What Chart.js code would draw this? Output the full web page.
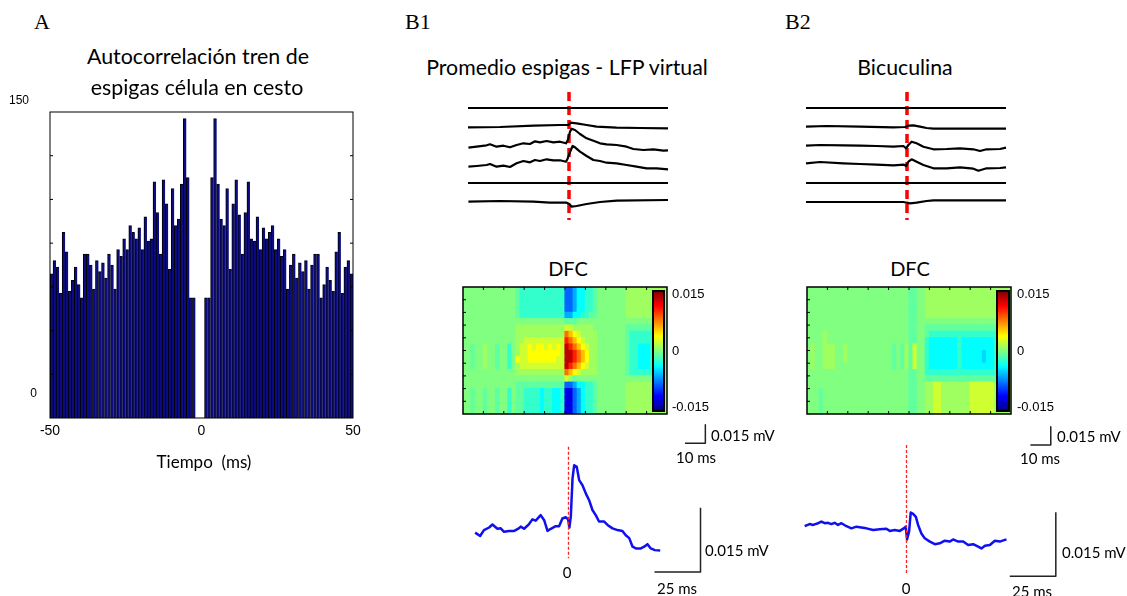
<!DOCTYPE html>
<html>
<head>
<meta charset="utf-8">
<script src="https://cdn.jsdelivr.net/npm/chart.js@4.4.1/dist/chart.umd.min.js"></script>
<style>
  html, body { margin: 0; padding: 0; background: #fff; }
  body { position: relative; width: 1127px; height: 596px; overflow: hidden; }
  canvas { position: absolute; }
  .lbl { position: absolute; white-space: pre; color: #000; font-family: Lato, 'Open Sans', sans-serif; line-height: 1; }
  .serif { font-family: 'Liberation Serif', 'DejaVu Serif', serif; }
  .arial { font-family: 'Liberation Sans', Arial, sans-serif; }
</style>
</head>
<body>
<script>
/* ---------- A: autocorrelation histogram (1 ms bins, -50..50 ms) ---------- */
const histStart = -50;
const histBin = 1;
const histCounts = [
  66, 72, 69, 57, 85, 76, 58, 63, 69, 61, 55, 75, 75, 70, 59, 72, 67, 71, 64, 75,
  70, 59, 77, 74, 82, 77, 88, 85, 82, 87, 77, 92, 81, 82, 108, 94, 75, 109, 98, 68,
  105, 88, 91, 107, 137, 110, 55, 55,
  0, 0, 0,
  55, 55, 110, 137, 107, 91, 88, 105, 68, 98, 109, 93, 75, 94, 108, 82, 81, 92, 77,
  87, 82, 85, 88, 77, 82, 74, 77, 59, 70, 75, 64, 71, 67, 72, 59, 70, 75, 75, 55,
  61, 69, 63, 58, 76, 85, 57, 69, 72, 66
];
const histXTicks = [-50, 0, 50];
const histYTicks = [20, 40, 60, 80, 100, 120];

/* ---------- B: spike-triggered traces, [ms, deflection] ---------- */
const traceOffsets = [112, 93, 73, 54, 37, 19];
const flatTrace = [[-50, 0], [50, 0]];
const b1Traces = [
  flatTrace,
  [[-50,-0.3],[-34,0],[-17,1.3],[-4,2],[0.2,2],[1.3,4.3],[4.3,3.7],[9.3,2],[14.3,0.3],[24.3,-0.7],[36,-1],[50,-1.3]],
  [[-49.8,-0.7],[-45.7,0.3],[-40.7,1.7],[-39,2.7],[-35.7,0.3],[-32.3,1.3],[-29,-0.3],[-25.7,2],[-22.3,3.7],[-19,3],[-16.5,5.7],[-14,4.7],[-10.7,6],[-7.3,4.7],[-4,5.3],[-1,3.7],[-0.2,6.3],[1,15.3],[1.8,18.3],[3.5,17],[6,13],[9.3,8.7],[12.7,6.3],[16,3.7],[19.3,2.7],[24.3,2],[29.3,0.3],[32.7,-2],[37.7,-3],[42.7,-2.3],[47.7,-3.7],[50,-3.3]],
  [[-49.8,-0.7],[-45.7,0],[-40.7,1],[-39,2],[-35.7,-0.7],[-32.3,0.3],[-29,-1],[-25.7,2.7],[-22.3,5],[-19,3.7],[-16.5,6],[-14,5],[-10.7,6.7],[-7.3,5.7],[-4,5.7],[-1,4.3],[-0.2,7.3],[1.3,15.3],[2.3,20],[3.5,18.7],[6,14.3],[9.3,10],[12.7,6],[16,5],[19.3,3.3],[24.3,2.7],[29.3,1],[34.3,-0.7],[39.3,-2.3],[44.3,-2.3],[50,-3.3]],
  flatTrace,
  [[-49.8,-0.7],[-34,0],[-17.3,-0.7],[-9,-1.7],[-0.7,-1.7],[0.7,-3],[1.8,-5.7],[4.3,-5],[9.3,-3],[16,-1],[24.3,0.3],[50,1]]
];
const b2Traces = [
  flatTrace,
  [[-50,0.3],[-39.7,1],[-23,0.3],[-6.3,-0.3],[-0.5,0],[1.2,1.3],[3.7,1.7],[7,0.3],[10.3,-1],[13.7,-1.7],[27,-1.7],[50,-1.7]],
  [[-50,1.3],[-43,2],[-31.3,1.7],[-23,1.3],[-14.7,1],[-6.3,0.3],[-1.3,1],[0,-1.3],[1.2,2],[2.8,5.3],[5.3,3.7],[8.7,0.3],[13.7,-2.3],[20.3,-2],[27,-1.3],[33.7,-2.3],[37,-4],[40.3,-2.3],[47,-2],[50,-0.7]],
  [[-50,2.7],[-43,4],[-31.3,2.7],[-23,2],[-14.7,1.3],[-6.3,0.7],[-1,1.3],[0,0],[1.2,4.3],[2.8,6.7],[5.3,4.3],[8.7,1],[13.7,-2.3],[20.3,-2.3],[27,-1.3],[33.7,-2.7],[36.2,-4.7],[40.3,-2.3],[47,-2],[50,-1.3]],
  flatTrace,
  [[-50,-1],[-23,-1],[-1.3,-1],[0.3,-1.7],[2,-2.3],[5.3,-1.7],[10.3,0],[13.7,0.7],[50,0.7]]
];
const spikeMarker = [[0.5, 128], [0.5, 0]];

/* ---------- DFC maps: 20 rows x 50 columns of 2 ms, value codes in mV ---------- */
const dfcCodes = {
  '.': 0, '+': 0.001, 'y': 0.0025, 'Y': 0.004, 'o': 0.006, 'O': 0.0085, 'r': 0.011, 'R': 0.014,
  '-': -0.001, 't': -0.0024, 'c': -0.004, 'k': -0.0052, 'l': -0.0066, 'b': -0.0088, 'B': -0.0128
};
const dfcB1 = [
  ".............|-ttttttttttt|bblcctt-|.......|++++++++++",
  ".............|-ttttttttttt|bblcctt-|.......|++++++++++",
  ".............|-ttttttttttt|bblcctt-|.......|++++++++++",
  ".............|-ttttttttttt|bblcctt-|.......|++++++++++",
  ".............|-ttttttttttt|llcctt--|.......|++++++++++",
  ".............|............|---.....|.......|..........",
  ".............|++++++++++++|yy+++++.|.......|-------...",
  ".............|++++++++++++|OoYy++++|.......|-tttttt---",
  ".............|++yyyyyyyyyy|rOoYy+++|.......|-tttttt---",
  "..-..+..-..t.|+yyYyYYyYyYy|RrOoYy++|.......|-ttccctt--",
  "..-..+..-..t.|+yyYYYYYYYYy|RRrOoY++|.......|-ttccctt--",
  "..-..+..-..t.|YyyYYYYYYYyy|RRrOoY++|.......|-ttccctt--",
  "..-..+..-..t.|+yyyyyyyyyyy|RrOoYy++|.......|-ttccctt--",
  ".............|++++++++++++|OoYy++++|.......|-tttttt---",
  ".............|............|y+-.....|.......|..........",
  ".............|------------|bblcctt-|.......|++++++++++",
  "..-..-..-..t.|--ttttcttcct|BBblctt-|.......|++++++++++",
  "..-..-..-..t.|--ttttcttcct|BBblctt-|.......|++++++++++",
  "..-..-..-..t.|--ttttcttcct|BBblctt-|.......|++++++++++",
  "..-..-..-..t.|--ttttcttcct|BBblctt-|.......|++++++++++"
];
const dfcB2 = [
  ".............|............|--..++++|+++++++|++++++++++",
  ".............|............|--..++++|+++++++|++++++++++",
  ".............|............|--..++++|+++++++|++++++++++",
  ".............|............|--..++++|+++++++|++++++++++",
  ".............|............|--..++++|+++++++|++++++++++",
  ".............|............|--......|.......|..........",
  ".............|............|--..----|-------|-------...",
  "....+........|............|--..-ttt|ttttttt|ttttttt--.",
  "....+........|............|--..tccc|cccctcc|cccccct--.",
  ".+..+++..+...|........-.-+|-y..tccc|cccctcc|cccccct--.",
  ".+..+++..+...|........-.-+|-y..tccc|cccctcc|ccckcct--.",
  ".+..+++..+...|........-.-+|-y..tccc|cccctcc|ccckcct--.",
  ".+..+++......|........-.-+|-y..tccc|cccctcc|cccccct--.",
  ".............|............|--..tttt|ttttttt|ttttttt--.",
  ".............|............|--..----|-------|-------...",
  ".............|............|--..++yy|+++++++|yyyyyy++++",
  "...-.........|............|--..++yy|+++++++|yyyyyy++++",
  "...-.........|............|--..++yy|+++++++|yyyyyy++++",
  "...-.........|............|--..++yy|+++++++|yyyyyy++++",
  "...-.........|............|--..++yy|+++++++|yyyyyy++++"
];
const dfcStart = -50;
const dfcStep = 2;
const dfcCols = 50;
const dfcXTicks = [-40, -30, -20, -10, 0, 10, 20, 30, 40];
const dfcYTicks = [2, 4, 6, 8, 10, 12, 14, 16, 18];
const cbMax = 0.016;
const cbTicks = [-0.015, 0, 0.015];
// scale bars (drawn top of vertical first so the points are not x-sorted)
const b1DfcBar = [[68.8, 21.7], [68.8, 24.6], [58.8, 24.6]];
const b2DfcBar = [[69.5, 22.0], [69.5, 24.9], [59.5, 24.9]];

/* ---------- virtual LFP, [ms, mV] ---------- */
const b1Lfp = [[-50.7,0.0001],[-48,-0.0007],[-45.9,0.0007],[-43.1,0.0013],[-41.3,0.002],[-38.6,0.001],[-36.8,0.0011],[-35,0.0003],[-32.3,0.0005],[-29.5,0.0005],[-27.7,0.0009],[-25.9,0.0015],[-24.1,0.001],[-21.4,0.0021],[-19.6,0.0032],[-17.8,0.0029],[-15.1,0.0042],[-13.2,0.003],[-11.4,0.0005],[-9.6,0.001],[-6.9,0.0016],[-5.1,0.0016],[-3.3,0.0034],[-1.5,0.0037],[-0.2,0.0032],[0.5,0.0013],[1.25,0.0038],[2.2,0.0128],[3.1,0.0159],[4.5,0.0155],[5.8,0.0124],[7.6,0.0112],[9.4,0.0093],[11.2,0.0077],[13,0.0054],[14.8,0.0042],[16.6,0.0027],[19.4,0.0027],[21.2,0.0019],[23.9,0.0011],[26.6,0.0007],[29.3,0.0005],[31.1,-0.0005],[33,-0.0012],[34.8,-0.0032],[36.6,-0.0036],[39.3,-0.0036],[41.1,-0.0032],[42.9,-0.0026],[44.7,-0.0036],[46.9,-0.004],[49.8,-0.0041]];
const b2Lfp = [[-55.3,0.0016],[-52.6,0.0021],[-50.7,0.0019],[-48,0.0023],[-46.2,0.0027],[-44.4,0.0023],[-42.6,0.0024],[-40.8,0.0021],[-39,0.0024],[-37.2,0.0019],[-35.3,0.0023],[-32.6,0.0016],[-29.9,0.0011],[-27.2,0.0015],[-24.5,0.0013],[-21.8,0.0011],[-18.1,0.0007],[-14.5,0.0009],[-10.9,0.001],[-9.1,0.0005],[-6.4,0.0007],[-3.6,0.0005],[-1.5,0.0011],[-0.4,0.0015],[0.3,-0.0015],[1.4,0.0003],[2.3,0.0048],[3.6,0.0045],[5.1,0.0038],[6.3,0.0019],[8.1,-0.0001],[9.9,-0.0012],[12.7,-0.002],[15.4,-0.0026],[18.1,-0.0024],[20.8,-0.0018],[23.5,-0.002],[25.3,-0.0015],[28.1,-0.002],[30.8,-0.002],[33.5,-0.0028],[36.2,-0.0026],[38.9,-0.0032],[40.7,-0.0036],[42.6,-0.003],[45.3,-0.0028],[48,-0.0018],[50.7,-0.002],[53.4,-0.0016],[54.3,-0.0015]];
const b1LfpMarker = [[0, 0.0202], [0, -0.0059]];
const b2LfpMarker = [[0, 0.0206], [0, -0.0094]];
const b1LfpBar = [[46.7, -0.0091], [71.7, -0.0091], [71.7, 0.0059]];
const b2LfpBar = [[56.1, -0.0101], [81.1, -0.0101], [81.1, 0.0049]];

/* ---------- helpers ---------- */
Chart.defaults.font.family = "'Liberation Sans', Arial, sans-serif";
Chart.defaults.font.size = 13;
Chart.defaults.color = '#000';

function mkCanvas(left, top, w, h) {
  const c = document.createElement('canvas');
  c.width = w; c.height = h;
  c.style.left = left + 'px'; c.style.top = top + 'px';
  c.style.width = w + 'px'; c.style.height = h + 'px';
  document.body.appendChild(c);
  return c;
}

function label(text, x, y, size, cls, align) {
  const d = document.createElement('div');
  d.className = 'lbl ' + (cls || '');
  d.textContent = text;
  d.style.fontSize = size + 'px';
  d.style.left = x + 'px';
  d.style.top = y + 'px';
  const tx = align === 'left' ? '0' : (align === 'right' ? '-100%' : '-50%');
  d.style.transform = 'translate(' + tx + ', -50%)';
  document.body.appendChild(d);
}

function pts(arr, off) {
  return arr.map(p => ({ x: p[0], y: p[1] + (off || 0) }));
}

function jet(f) {
  const t = Math.max(0, Math.min(1, (f + 1) / 2));
  const cl = v => Math.round(255 * Math.max(0, Math.min(1, v)));
  return 'rgb(' + cl(1.5 - Math.abs(4 * t - 3)) + ',' + cl(1.5 - Math.abs(4 * t - 2)) + ',' + cl(1.5 - Math.abs(4 * t - 1)) + ')';
}

// black box + inward MATLAB-style tick marks
function frame(o) {
  return {
    id: 'frame',
    afterDraw(chart) {
      const { ctx, chartArea: a, scales } = chart;
      const L = o.len || 3;
      ctx.save();
      ctx.strokeStyle = '#000';
      ctx.lineWidth = o.lw || 1;
      ctx.strokeRect(a.left, a.top, a.right - a.left, a.bottom - a.top);
      ctx.lineWidth = 1;
      const seg = (x1, y1, x2, y2) => { ctx.beginPath(); ctx.moveTo(x1, y1); ctx.lineTo(x2, y2); ctx.stroke(); };
      (o.yTicks || []).forEach(v => {
        const y = scales.y.getPixelForValue(v);
        if (o.left) seg(a.left, y, a.left + L, y);
        if (o.right) seg(a.right, y, a.right - L, y);
      });
      (o.xTicks || []).forEach(v => {
        const x = scales.x.getPixelForValue(v);
        if (o.bottom) seg(x, a.bottom, x, a.bottom - L);
        if (o.top) seg(x, a.top, x, a.top + L);
      });
      ctx.restore();
    }
  };
}

const baseOpts = (padding) => ({
  responsive: false, animation: false, events: [],
  layout: { padding },
  plugins: { legend: { display: false }, tooltip: { enabled: false } }
});

const lineDs = (data, color, width, dash) => ({
  type: 'line', data, borderColor: color, borderWidth: width, borderDash: dash || [],
  pointRadius: 0, tension: 0, fill: false, clip: false, borderCapStyle: 'butt', borderJoinStyle: 'round'
});

/* ---------- panel A ---------- */
new Chart(mkCanvas(0, 100, 380, 360), {
  type: 'bar',
  data: {
    datasets: [{
      data: histCounts.map((v, i) => ({ x: histStart + histBin * (i + 0.5), y: v })),
      backgroundColor: '#0c0c80',
      borderColor: '#000',
      borderWidth: { left: 1, top: 1, right: 0, bottom: 0 },
      barPercentage: 1, categoryPercentage: 1
    }]
  },
  options: Object.assign(baseOpts({ left: 50, right: 27, top: 12, bottom: 0 }), {
    scales: {
      x: {
        type: 'linear', min: -50, max: 50, offset: false,
        grid: { display: false, drawTicks: false }, border: { display: false },
        afterBuildTicks: s => { s.ticks = histXTicks.map(v => ({ value: v })); },
        ticks: { padding: 5, font: { size: 14 }, maxRotation: 0 },
        afterFit: s => { s.height = 42; }
      },
      y: { min: 0, max: 140, display: false }
    }
  }),
  plugins: [frame({ lw: 1, yTicks: histYTicks, left: true, right: true, len: 3 })]
});

/* ---------- B: trace stacks ---------- */
function traceChart(left, traces) {
  const ds = traces.map((t, i) => lineDs(pts(t, traceOffsets[i]), '#000', 2.2));
  ds.push(lineDs(pts(spikeMarker), '#ff0000', 3.5, [9, 5]));
  new Chart(mkCanvas(left, 86, 215, 140), {
    type: 'scatter',
    data: { datasets: ds },
    options: Object.assign(baseOpts({ left: 8, right: 7, top: 0, bottom: 0 }), {
      scales: {
        x: { type: 'linear', min: -50, max: 50, display: false },
        y: { min: -6, max: 134, display: false }
      }
    })
  });
}
traceChart(460, b1Traces);
traceChart(798, b2Traces);

/* ---------- B: DFC maps ---------- */
function dfcChart(left, padL, padR, rows, bar) {
  const data = [], colors = [];
  rows.forEach((row, r) => {
    const s = row.replace(/\|/g, '');
    for (let c = 0; c < dfcCols; c++) {
      const v = dfcCodes[s.charAt(c)] || 0;
      data.push({ x: dfcStart + dfcStep * (c + 0.5), y: [r, r + 1] });
      colors.push(jet(v / cbMax));
    }
  });
  new Chart(mkCanvas(left, 280, 275, 175), {
    type: 'bar',
    data: {
      datasets: [
        { type: 'bar', data, backgroundColor: colors, borderWidth: 0, inflateAmount: 0.6,
          barPercentage: 1, categoryPercentage: 1 },
        lineDs(pts(bar), '#222', 1.5)
      ]
    },
    options: Object.assign(baseOpts({ left: padL, right: padR, top: 7, bottom: 41 }), {
      scales: {
        x: { type: 'linear', min: -50, max: 50, offset: false, display: false },
        y: { min: 0, max: rows.length, reverse: true, display: false }
      }
    }),
    plugins: [frame({ lw: 1.5, xTicks: dfcXTicks, yTicks: dfcYTicks, left: true, top: true, bottom: true, len: 3 })]
  });
}
dfcChart(455, 8, 63, dfcB1, b1DfcBar);
dfcChart(800, 7, 64, dfcB2, b2DfcBar);

function colorbar(left, axisW) {
  new Chart(mkCanvas(left, 286, 80, 130), {
    type: 'bar',
    data: {
      labels: ['DFC'],
      datasets: [{
        data: [[-cbMax, cbMax]],
        barPercentage: 1, categoryPercentage: 1, borderWidth: 0,
        backgroundColor: ctx => {
          const a = ctx.chart.chartArea;
          if (!a) return '#80ff80';
          const g = ctx.chart.ctx.createLinearGradient(0, a.bottom, 0, a.top);
          [[0, '#000080'], [0.125, '#0000ff'], [0.375, '#00ffff'], [0.625, '#ffff00'], [0.875, '#ff0000'], [1, '#800000']]
            .forEach(s => g.addColorStop(s[0], s[1]));
          return g;
        }
      }]
    },
    options: Object.assign(baseOpts({ left: 5, right: 0, top: 5, bottom: 5 }), {
      scales: {
        x: { display: false },
        y: {
          position: 'right', min: -cbMax, max: cbMax,
          grid: { display: false, drawTicks: false }, border: { display: false },
          afterBuildTicks: s => { s.ticks = cbTicks.map(v => ({ value: v })); },
          ticks: { padding: 8, font: { size: 13 }, callback: v => (v === 0 ? '0' : String(v)) },
          afterFit: s => { s.width = axisW; s.paddingTop = 0; s.paddingBottom = 0; }
        }
      }
    }),
    plugins: [frame({ lw: 2 })]
  });
}
colorbar(648, 64);
colorbar(992, 63);

/* ---------- B: virtual LFP ---------- */
function lfpChart(left, lfp, marker, bar) {
  new Chart(mkCanvas(left, 440, 267, 140), {
    type: 'scatter',
    data: {
      datasets: [
        lineDs(pts(marker), '#ff2020', 1.3, [3, 2]),
        lineDs(pts(lfp), '#1010ee', 2.5),
        lineDs(pts(bar), '#222', 1.5)
      ]
    },
    options: Object.assign(baseOpts({ left: 0, right: 0, top: 0, bottom: 0 }), {
      scales: {
        x: { type: 'linear', min: -60, max: 85, display: false },
        y: { min: -0.011, max: 0.0218, display: false }
      }
    })
  });
}
lfpChart(458, b1Lfp, b1LfpMarker, b1LfpBar);
lfpChart(796, b2Lfp, b2LfpMarker, b2LfpBar);

/* ---------- text ---------- */
label('A', 34, 22, 22, 'serif', 'left');
label('B1', 405, 22, 22, 'serif', 'left');
label('B2', 785, 22, 22, 'serif', 'left');
label('Autocorrelación tren de', 198, 57, 21.4);
label('espigas célula en cesto', 197, 88, 21.4);
label('150', 19, 100, 12, 'arial');
label('0', 33.5, 393, 12, 'arial');
label('Tiempo  (ms)', 204, 461, 17);
label('Promedio espigas - LFP virtual', 567, 68, 21.3);
label('Bicuculina', 905, 68, 21.3);
label('DFC', 568, 268, 20);
label('DFC', 910, 268, 20);
label('0.015 mV', 711, 435, 15, '', 'left');
label('10 ms', 676, 457, 15, '', 'left');
label('0.015 mV', 1057, 436, 15, '', 'left');
label('10 ms', 1020, 458, 15, '', 'left');
label('0', 567, 572, 15);
label('0.015 mV', 705, 550, 15, '', 'left');
label('25 ms', 657, 588, 15, '', 'left');
label('0', 906, 588, 15);
label('0.015 mV', 1062, 552, 15, '', 'left');
label('25 ms', 1012, 591, 15, '', 'left');
</script>
</body>
</html>
